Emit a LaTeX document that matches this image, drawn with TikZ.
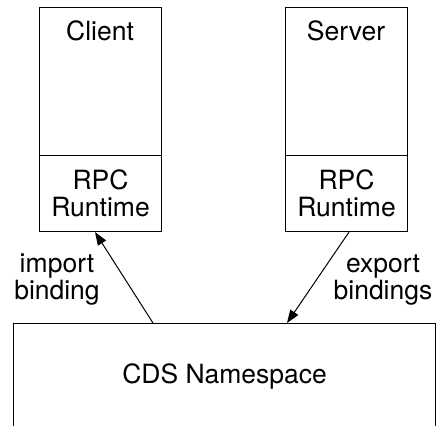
\documentclass[tikz,border=0pt]{standalone}
\usepackage{fontspec}
\setmainfont{TeX Gyre Heros}
\usetikzlibrary{arrows.meta}

\begin{document}
\begin{tikzpicture}[
  x=1pt, y=-1pt,
  box/.style={draw, line width=1.1pt, inner sep=0pt, anchor=north west},
  lbl/.style={font=\fontsize{26.5}{27}\selectfont, align=center, inner sep=0pt},
  pointer/.style={draw, line width=1pt, -{Triangle[length=13pt, width=9.5pt]}}
]

\clip (0,0) rectangle (437,426);

% Nodes
\node[box, minimum width=122pt, minimum height=148pt] (client) at (39,7) {};
\node[box, lbl, minimum width=122pt, minimum height=76pt] (clientrt) at (39,155) {RPC\\Runtime};
\node[lbl, anchor=base] (clientlbl) at (100,40) {Client};

\node[box, minimum width=122pt, minimum height=148pt] (server) at (285,7) {};
\node[box, lbl, minimum width=122pt, minimum height=76pt] (serverrt) at (285,155) {RPC\\Runtime};
\node[lbl, anchor=base] (serverlbl) at (346,40) {Server};

\node[box, lbl, minimum width=422pt, minimum height=105pt] (cds) at (13,323) {CDS Namespace};

% Arrows between nodes
\draw[pointer] ([xshift=140pt]cds.north west) -- ([xshift=56pt]clientrt.south west);
\draw[pointer] ([xshift=64pt]serverrt.south west) -- ([xshift=274pt]cds.north west);

% Arrow labels
\node[lbl] (implbl) at (57,280) {import\\binding};
\node[lbl] (explbl) at (383,280) {export\\bindings};

\end{tikzpicture}
\end{document}
